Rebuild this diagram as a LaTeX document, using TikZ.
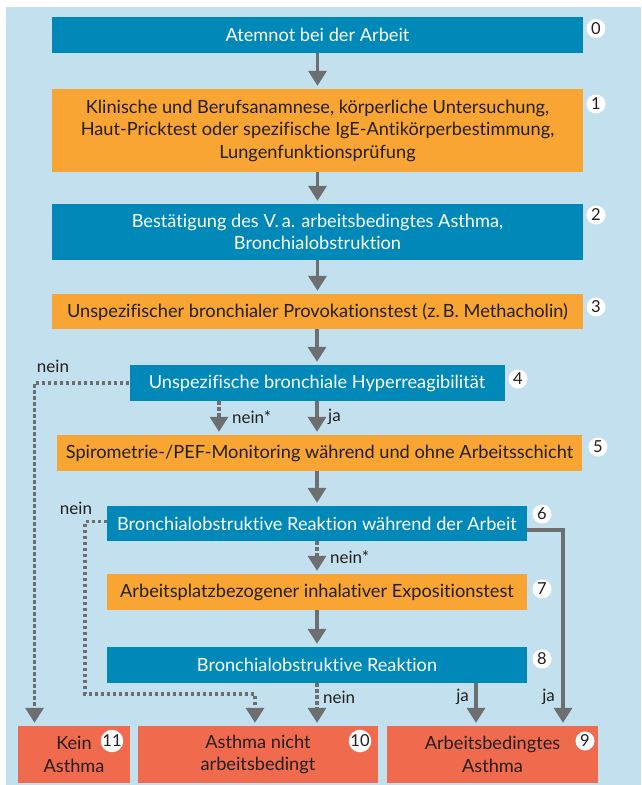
\documentclass[tikz,border=0pt]{standalone}
\usepackage{fontspec}
\setmainfont{Lato}[Ligatures={NoCommon}]
\usetikzlibrary{arrows.meta}
\definecolor{bg}{RGB}{195,224,239}
\definecolor{dblue}{RGB}{0,137,184}
\definecolor{orng}{RGB}{248,165,51}
\definecolor{salm}{RGB}{240,107,78}
\definecolor{arr}{RGB}{109,110,112}
\definecolor{txt}{RGB}{35,31,32}
\begin{document}
\begin{tikzpicture}[x=1pt,y=-1pt,
  box/.style={rectangle, inner sep=0pt, align=center, font=\fontsize{18.2}{22.5}\selectfont},
  bluebox/.style={box, fill=dblue, text=white},
  orbox/.style={box, fill=orng, text=txt},
  redbox/.style={box, fill=salm, text=txt},
  num/.style={circle, fill=white, inner sep=0pt, minimum size=19pt, font=\fontsize{16.5}{16.5}\selectfont, text=txt},
  lbl/.style={inner sep=0pt, font=\fontsize{17}{17}\selectfont, text=txt},
  tip/.style={-{Triangle[length=15pt,width=18pt]}, shorten >=3pt},
  flow/.style={draw=arr, line width=3.5pt},
  dots/.style={draw=arr, line width=3.3pt, dash pattern=on 3.3pt off 2.7pt}]
\useasboundingbox (0,0) rectangle (641,785);
\fill[bg] (6,7) rectangle (641,785);
% boxes
\node[bluebox, minimum width=531pt, minimum height=36pt] (b0) at (317.5,35) {Atemnot bei der Arbeit};
\node[orbox, minimum width=531pt, minimum height=83pt] (b1) at (317.5,130.5) {Klinische und Berufsanamnese, körperliche Untersuchung,\\Haut-Pricktest oder spezifische IgE-Antikörperbestimmung,\\Lungenfunktionsprüfung};
\node[bluebox, minimum width=531pt, minimum height=56pt] (b2) at (317.5,232) {Bestätigung des V.\,a. arbeitsbedingtes Asthma,\\Bronchialobstruktion};
\node[orbox, minimum width=531pt, minimum height=35pt] (b3) at (317.5,311.5) {Unspezifischer bronchialer Provokationstest (z.\,B. Methacholin)};
\node[bluebox, minimum width=375pt, minimum height=36pt] (b4) at (317,383) {Unspezifische bronchiale Hyperreagibilität};
\node[orbox, minimum width=525pt, minimum height=36pt] (b5) at (319.5,453) {Spirometrie-/PEF-Monitoring während und ohne Arbeitsschicht};
\node[bluebox, minimum width=420pt, minimum height=35pt] (b6) at (317,523.5) {Bronchialobstruktive Reaktion während der Arbeit};
\node[orbox, minimum width=420pt, minimum height=36pt] (b7) at (317,592) {Arbeitsplatzbezogener inhalativer Expositionstest};
\node[bluebox, minimum width=420pt, minimum height=36pt] (b8) at (317,665) {Bronchialobstruktive Reaktion};
\node[redbox, minimum width=112pt, minimum height=57pt] (b11) at (74,754.5) {Kein\\Asthma};
\node[redbox, minimum width=240pt, minimum height=57pt] (b10) at (258,754.5) {Asthma nicht\\arbeitsbedingt};
\node[redbox, minimum width=211pt, minimum height=57pt] (b9) at (492.5,754.5) {Arbeitsbedingtes\\Asthma};
% numbers
\node[num] (n0) at (596,28.5) {0};
\node[num] (n1) at (596,104) {1};
\node[num] (n2) at (596,215) {2};
\node[num] (n3) at (596,307) {3};
\node[num] (n4) at (518,379) {4};
\node[num] (n5) at (598,447) {5};
\node[num] (n6) at (542,514) {6};
\node[num] (n7) at (542,589) {7};
\node[num] (n8) at (542,659) {8};
\node[num] (n11) at (112,741) {11};
\node[num] (n10) at (360,741) {10};
\node[num] (n9) at (585,741) {9};
% helper coordinates
\coordinate (xa) at (219,0);
\coordinate (xl) at (34.5,0);
\coordinate (k1) at (85,694);
\coordinate (k2) at (255,694);
\coordinate (xr) at (563,0);
\coordinate (xj) at (476,0);
% solid flow
\draw[flow,tip] (b0.south) -- (b1.north);
\draw[flow,tip] (b1.south) -- (b2.north);
\draw[flow,tip] (b2.south) -- (b3.north);
\draw[flow,tip] (b3.south -| b4.south) -- (b4.north);
\draw[flow,tip] (b4.south) -- (b4.south |- b5.north);
\draw[flow,tip] (b5.south -| b6.south) -- (b6.north);
\draw[flow,tip] (b7.south) -- (b8.north);
\draw[flow,tip] ([yshift=-6.5pt]b6.east) -| (xr |- b9.north);
\draw[flow,tip] (b8.south -| xj) -- (xj |- b9.north);
% dotted flow
\draw[dots,tip] (b4.south -| xa) -- (xa |- b5.north);
\draw[dots,tip] (b4.west) -| (xl |- b11.north);
\draw[dots,tip] (b6.south) -- (b7.north);
\draw[dots,tip] ([yshift=2pt]b6.west) -| (k1) -- (k2) -- (k2 |- b10.north);
\draw[dots,tip] (b8.south) -- (b8.south |- b10.north);
% labels
\node[lbl] (l1) at (53,366) {nein};
\node[lbl, anchor=west] (l2) at (232,417) {nein*};
\node[lbl, anchor=west] (l3) at (328,417) {ja};
\node[lbl] (l4) at (76,508) {nein};
\node[lbl, anchor=west] (l5) at (330,557) {nein*};
\node[lbl, anchor=west] (l6) at (323,697) {nein};
\node[lbl, anchor=east] (l7) at (469,697) {ja};
\node[lbl, anchor=east] (l8) at (555,697) {ja};
\end{tikzpicture}
\end{document}
